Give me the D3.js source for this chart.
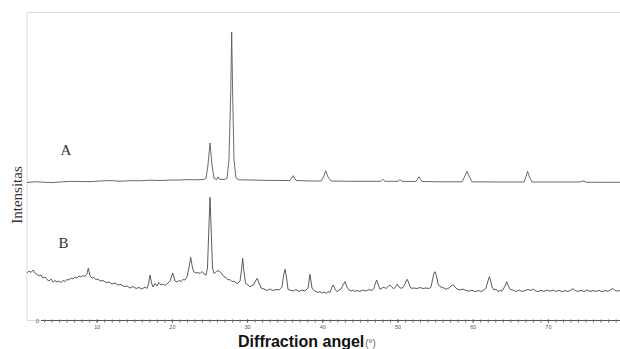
<!DOCTYPE html>
<html><head><meta charset="utf-8">
<script src="https://cdn.jsdelivr.net/npm/d3@7"></script>
<style>body{margin:0;background:#fff}svg{display:block}</style>
</head><body><svg id="c" width="620" height="349"></svg>
<script>
// ---- data (2θ in degrees, intensity in arbitrary units) ----
const angleA = [0.73,1.80,3.13,4.06,5.12,6.45,7.78,9.11,10.44,11.77,13.10,14.43,15.76,17.09,18.42,19.75,21.08,22.07,23.07,24.14,24.53,24.80,25.07,25.33,25.60,26.00,26.13,26.33,26.93,27.33,27.59,27.83,27.95,28.07,28.26,28.52,28.92,30.39,32.38,34.38,35.70,36.14,36.50,38.36,39.83,40.16,40.45,40.76,41.16,43.68,46.34,47.81,48.07,48.34,50.07,50.33,50.60,52.46,52.86,53.26,55.65,58.58,58.91,59.24,59.57,59.91,63.63,66.82,67.09,67.29,67.55,67.89,71.61,74.27,74.67,75.07,77.59,79.59];
const intensityA = [7.5,8.2,7.7,7.4,8,8.6,8.5,8.3,9,9.4,8.8,9.3,9.2,9.8,9.5,9.9,10,10.4,10.2,10.5,11.5,25,47,25,11.5,10.5,13.2,10.7,10.5,11.5,30,100,158,100,30,12,10.2,10,9.7,9.5,9.5,14.3,9.5,9,9,13,19.3,13,9,8.7,8.7,8.7,10.7,8.7,8.7,10.5,8.7,8.5,13.3,8.5,8.2,8.2,13,18.7,13,8.2,8,8,13.5,18.7,13,8,8,8,9.2,7.8,7.7,7.7];

const angleB = [0.73,1.00,1.26,1.53,1.80,2.06,2.33,2.59,2.86,3.13,3.39,3.66,3.92,4.19,4.45,4.72,4.99,5.25,5.52,5.78,6.05,6.32,6.58,6.85,7.11,7.38,7.65,7.91,8.18,8.44,8.71,8.88,9.11,9.38,9.64,9.91,10.17,10.44,10.84,11.24,11.64,12.03,12.43,12.83,13.23,13.63,14.03,14.43,14.83,15.23,15.63,16.02,16.42,16.69,16.89,17.09,17.29,17.49,17.75,18.02,18.28,18.55,18.82,19.08,19.48,19.75,20.11,20.41,20.68,20.94,21.21,21.48,21.74,22.01,22.21,22.50,22.74,22.94,23.20,23.47,23.74,24.00,24.27,24.53,24.73,24.93,25.07,25.20,25.40,25.60,25.86,26.13,26.40,26.66,26.93,27.19,27.46,27.73,27.99,28.26,28.52,28.79,29.06,29.26,29.41,29.59,29.79,30.12,30.39,30.65,30.92,31.12,31.36,31.58,31.85,32.25,32.65,33.05,33.44,33.84,34.24,34.64,34.84,35.04,35.24,35.44,35.70,36.10,36.50,36.90,37.30,37.70,38.10,38.36,38.63,38.90,39.16,39.43,39.69,39.96,40.23,40.49,40.76,41.02,41.29,41.46,41.69,41.96,42.22,42.49,42.75,43.02,43.28,43.55,43.82,44.08,44.35,44.61,45.01,45.41,45.81,46.21,46.61,46.88,47.07,47.23,47.41,47.67,47.94,48.20,48.47,48.74,49.00,49.27,49.53,49.80,49.97,50.20,50.47,50.73,51.00,51.13,51.30,51.53,51.80,52.19,52.59,52.99,53.39,53.79,54.19,54.46,54.65,54.85,54.99,55.19,55.39,55.65,56.05,56.45,56.85,57.11,57.42,57.65,57.91,58.31,58.71,59.11,59.51,59.91,60.31,60.70,61.10,61.50,61.77,62.03,62.21,62.37,62.57,62.83,63.10,63.36,63.63,63.90,64.16,64.36,64.52,64.69,64.96,65.36,65.76,66.16,66.56,66.95,67.35,67.75,68.02,68.28,68.68,69.08,69.48,69.88,70.28,70.68,71.08,71.48,71.88,72.27,72.67,73.07,73.34,73.60,74.00,74.40,74.80,75.20,75.60,76.00,76.40,76.80,77.19,77.59,77.99,78.39,78.66,78.92,79.19,79.59];
const intensityB = [47,49,47.5,50,47,45.5,44,45,42,43,40.5,39,41,38,39.5,38,39,37.5,39.5,38.5,40.5,40,42,41,43,42,44,43,44.5,43.5,46,51.7,44,42,42.5,40.5,41,39,39.5,37.5,38,36,37,35,35.5,33.5,34,32,33.5,31.5,32.5,31,33,31.5,36,45,37,33,36.5,34,37.5,35,36,34.5,37,39,47,39,38,39.5,38.5,40.5,40,43,50,62.7,52,48,47,47.5,46.5,48.5,46,45,52,95,122.7,95,52,46.5,48,49.5,48.3,46,43.3,42.5,40,40.5,38.3,39,37,36.7,39,50,61.7,48,36.7,35,33.3,34.5,36,39,41.7,37,32,31,29.5,31,29.5,30.5,30,33,44,50.7,43,30.5,30,29,30.5,28.5,30,29,32,45.7,32,29.5,28.5,27.5,28.5,27,28,26.5,28.5,27.5,33,35,31,28.3,30,31,35,38.3,33,30,29,30,28.5,29.5,28.5,30,29,30.5,29.5,32,37,40,36,30.7,32,32.7,31.5,33.5,35,32.5,31.5,33.5,35.7,33,31.7,32.5,36,39,40.7,36,31.7,32,31.5,32.5,31.5,32,31.5,33,40,47,48.3,44,36,33.3,32.5,30.7,32,34,35,33,31,30,31,29.5,28.8,30,28.3,29.5,28.5,30,32,39,43.3,40,33,30,31,28.3,29.5,29,32,35,38.3,35,30.7,30,28.5,30,28.5,29.5,30.5,29.5,31,29.5,28.3,29.7,28.5,30,28.8,30,28.5,29.7,28.3,29.5,28.5,30,31.5,29.5,28.5,29.7,28.5,30,28.5,29.5,28.5,29.7,28.2,29.5,28.7,30.5,31.5,29.5,29,29.5];

const seriesNames = ["A", "B"];
const majorTicks = [10, 20, 30, 40, 50, 60, 70];
const tickLabels = ["10", "20", "30", "40", "50", "60", "70"];
const xTitle = "Diffraction angel";
const xUnit = "(°)";
const yTitle = "Intensitas";

// ---- layout ----
const svg = d3.select("#c");
const x = d3.scaleLinear().domain([0, 80]).range([21.5, 623.1]);
const y = d3.scaleLinear().domain([0, 300]).range([320, 20]);
const offsets = {A: 130, B: 0};
const axisStart = 2.6;

// frame (light grey)
svg.append("path")
  .attr("d", `M27,320 L27,12.5 L620,12.5`)
  .attr("fill", "none").attr("stroke", "#dcdcdc").attr("stroke-width", 1);
svg.append("line").attr("x1", 27).attr("x2", x(axisStart)).attr("y1", 320.5).attr("y2", 320.5)
  .attr("stroke", "#dcdcdc");

// x axis
const gAx = svg.append("g").attr("transform", `translate(0,${y(0)})`);
gAx.append("line").attr("x1", x(axisStart)).attr("x2", x(80)).attr("y1", 0.5).attr("y2", 0.5)
  .attr("stroke", "#555").attr("stroke-width", 1);
const minor = gAx.append("g").call(d3.axisBottom(x).tickValues(d3.range(3, 81, 1)).tickSize(3).tickFormat(""));
minor.select(".domain").remove();
minor.selectAll(".tick line").attr("stroke", "#666").attr("transform", "translate(0,-0.5)");
const major = gAx.append("g").call(d3.axisBottom(x).tickValues(majorTicks).tickSize(3).tickPadding(2)
  .tickFormat((d, i) => tickLabels[i]));
major.select(".domain").remove();
major.selectAll(".tick line").attr("stroke", "#555").attr("transform", "translate(0,-0.5)");
major.selectAll(".tick text").attr("font-family", "Liberation Sans, sans-serif").attr("font-size", 5.5).attr("fill", "#555");
// zero label
svg.append("text").attr("x", x(axisStart) - 2).attr("y", y(0) + 2.5).attr("text-anchor", "end")
  .attr("font-family", "Liberation Sans, sans-serif").attr("font-size", 6).attr("fill", "#555").text("0");

// traces
const line = d3.line().x(d => x(d[0])).y(d => y(d[1]));
const dataA = angleA.map((a, i) => [a, intensityA[i] + offsets.A]);
const dataB = angleB.map((a, i) => [a, intensityB[i] + offsets.B]);
svg.append("path").datum(dataA).attr("d", line).attr("fill", "none").attr("stroke", "#5a5a5a").attr("stroke-width", 0.9);
svg.append("path").datum(dataB).attr("d", line).attr("fill", "none").attr("stroke", "#4a4a4a").attr("stroke-width", 0.9);

// series labels
svg.append("text").attr("x", x(5.9)).attr("y", y(offsets.A + 35)).attr("text-anchor", "middle")
  .attr("font-family", "Liberation Serif, serif").attr("font-size", 15).attr("fill", "#333").text(seriesNames[0]);
svg.append("text").attr("x", x(5.6)).attr("y", y(offsets.B + 72)).attr("text-anchor", "middle")
  .attr("font-family", "Liberation Serif, serif").attr("font-size", 15).attr("fill", "#333").text(seriesNames[1]);

// y title
svg.append("text").attr("transform", `translate(22,195) rotate(-90)`).attr("text-anchor", "middle")
  .attr("font-family", "Liberation Serif, serif").attr("font-size", 15).attr("fill", "#333").text(yTitle);

// x title
const xt = svg.append("text").attr("x", 307).attr("y", 347).attr("text-anchor", "middle")
  .attr("font-family", "Liberation Sans, sans-serif");
xt.append("tspan").attr("font-size", 16).attr("font-weight", "bold").attr("fill", "#111").text(xTitle);
xt.append("tspan").attr("font-size", 10).attr("fill", "#666").attr("dx", 1).text(xUnit);
</script>
</body></html>
